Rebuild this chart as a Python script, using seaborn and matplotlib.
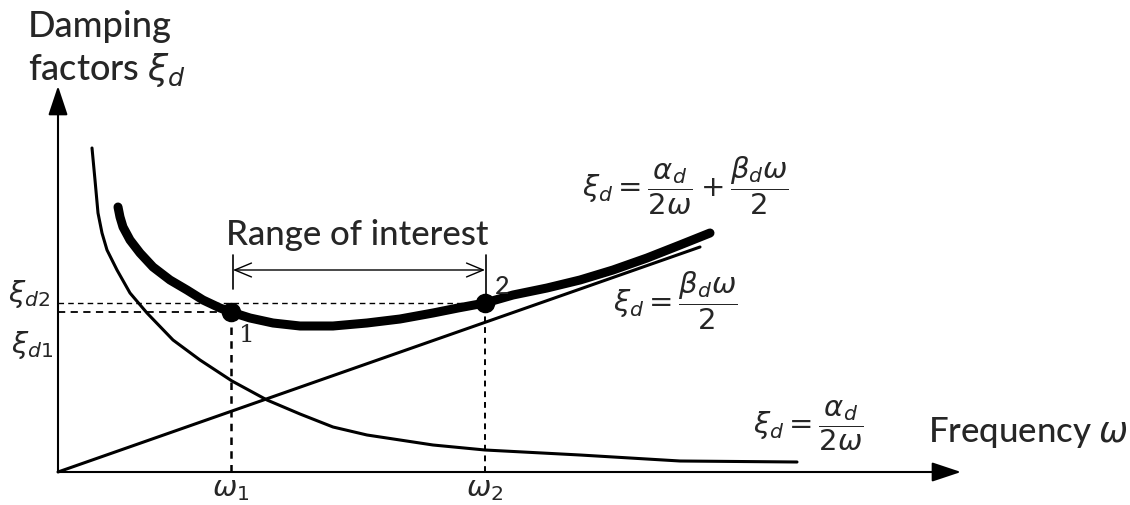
import matplotlib
matplotlib.use("Agg")
import matplotlib.pyplot as plt
import seaborn as sns
import pandas as pd

# Frequency / damping samples of the three curves (arbitrary units)
omega_alpha = [0.34, 0.37, 0.40, 0.44, 0.49, 0.59, 0.72, 0.89, 1.15, 1.42, 1.74,
               2.09, 2.42, 2.75, 3.09, 3.42, 3.75, 4.27, 5.22, 6.22, 7.39]
xi_alpha = [3.24, 2.92, 2.59, 2.39, 2.22, 2.02, 1.79, 1.59, 1.32, 1.12, 0.91,
            0.72, 0.58, 0.45, 0.37, 0.32, 0.27, 0.22, 0.17, 0.11, 0.10]

omega_beta = [0.0, 6.42]
xi_beta = [0.0, 2.25]

omega_total = [0.60, 0.62, 0.65, 0.72, 0.82, 0.95, 1.12, 1.29, 1.45, 1.62, 1.73,
               1.92, 2.15, 2.42, 2.75, 3.09, 3.42, 3.75, 4.00, 4.27, 4.55, 4.89,
               5.22, 5.55, 5.89, 6.22, 6.52]
xi_total = [2.65, 2.55, 2.45, 2.32, 2.19, 2.05, 1.92, 1.82, 1.72, 1.64, 1.60,
            1.54, 1.49, 1.46, 1.46, 1.49, 1.53, 1.59, 1.64, 1.69, 1.77, 1.84,
            1.92, 2.02, 2.14, 2.27, 2.39]

# Range of interest endpoints
omega_pts = [1.73, 4.27]
xi_pts = [1.60, 1.69]
pt_labels = ["1", "2"]
omega_tick_labels = [r"$\omega_1$", r"$\omega_2$"]
xi_tick_labels = [r"$\xi_{d1}$", r"$\xi_{d2}$"]

sns.set_style("white")
plt.rcParams["font.family"] = ["Lato", "DejaVu Sans"]
plt.rcParams["mathtext.fontset"] = "dejavusans"

fig = plt.figure(figsize=(11.3, 5.05), dpi=100)
ax = fig.add_axes([0, 0, 1, 1])
ax.set_xlim(-0.58, 10.72)
ax.set_ylim(-0.33, 4.72)
ax.axis("off")

df_a = pd.DataFrame({"omega": omega_alpha, "xi": xi_alpha})
df_b = pd.DataFrame({"omega": omega_beta, "xi": xi_beta})
df_t = pd.DataFrame({"omega": omega_total, "xi": xi_total})

line_kw = dict(color="black", sort=False, estimator=None,
               solid_joinstyle="round", solid_capstyle="round")
sns.lineplot(data=df_a, x="omega", y="xi", ax=ax, lw=2.2, **line_kw)
sns.lineplot(data=df_b, x="omega", y="xi", ax=ax, lw=2.2, **line_kw)
sns.lineplot(data=df_t, x="omega", y="xi", ax=ax, lw=6.5, **line_kw)
sns.scatterplot(x=omega_pts, y=xi_pts, ax=ax, color="black", s=170, zorder=5,
                edgecolor="black")

# axes with arrow heads
arrow_kw = dict(arrowstyle="-|>,head_length=0.9,head_width=0.3", lw=1.5,
                color="black", shrinkA=0, shrinkB=0, mutation_scale=20)
ax.annotate("", xy=(0, 3.86), xytext=(0, 0), arrowprops=arrow_kw)
ax.annotate("", xy=(9.03, 0), xytext=(0, 0), arrowprops=arrow_kw)

# dashed guides
(o1, o2), (x1, x2) = omega_pts, xi_pts
ax.plot([0, o2], [x2, x2], ls=(0, (4, 3)), color="black", lw=1.0)
ax.plot([0, o1], [x1, x1], ls=(0, (4, 3)), color="black", lw=1.3)
ax.plot([o1, o1], [0, x1], ls=(0, (3, 2.5)), color="black", lw=1.8)
ax.plot([o2, o2], [0, x2], ls=(0, (3, 2.5)), color="black", lw=1.4)

# range of interest bracket
ax.plot([o1 + 0.02, o1 + 0.02], [1.83, 2.17], color="black", lw=1.2)
ax.plot([o2 + 0.01, o2 + 0.01], [1.72, 2.17], color="black", lw=1.2)
ax.annotate("", xy=(o2, 2.02), xytext=(o1 + 0.02, 2.02),
            arrowprops=dict(arrowstyle="<->,head_length=0.6,head_width=0.25",
                            lw=1.0, color="black", shrinkA=0, shrinkB=0,
                            mutation_scale=20))
ax.text(2.99, 2.27, "Range of interest", fontsize=25, ha="center", va="baseline",
        fontweight="medium")

# point labels
ax.text(1.89, 1.37, pt_labels[0], fontsize=18, ha="center", va="center",
        family="DejaVu Serif")
ax.text(4.44, 1.85, pt_labels[1], fontsize=18, ha="center", va="center",
        fontweight="medium")

# tick labels
for o, lab in zip(omega_pts, omega_tick_labels):
    ax.text(o, -0.18, lab, fontsize=21, ha="center", va="center")
ax.text(-0.29, 1.78, xi_tick_labels[1], fontsize=21, ha="center", va="center")
ax.text(-0.26, 1.27, xi_tick_labels[0], fontsize=21, ha="center", va="center")

# axis titles
ax.text(-0.30, 4.35, "Damping", fontsize=26, ha="left", va="baseline",
        fontweight="medium")
ax.text(-0.30, 3.92, r"factors $\xi_d$", fontsize=26, ha="left", va="baseline",
        fontweight="medium")
ax.text(8.70, 0.40, r"Frequency $\omega$", fontsize=25, ha="left", va="center",
        fontweight="medium")

# curve equations
ax.text(6.27, 2.86, r"$\xi_d = \dfrac{\alpha_d}{2\omega} + \dfrac{\beta_d\omega}{2}$",
        fontsize=21, ha="center", va="center")
ax.text(6.17, 1.71, r"$\xi_d = \dfrac{\beta_d\omega}{2}$",
        fontsize=21, ha="center", va="center")
ax.text(7.50, 0.46, r"$\xi_d = \dfrac{\alpha_d}{2\omega}$",
        fontsize=21, ha="center", va="center")

fig.savefig("out.png", dpi=100)
